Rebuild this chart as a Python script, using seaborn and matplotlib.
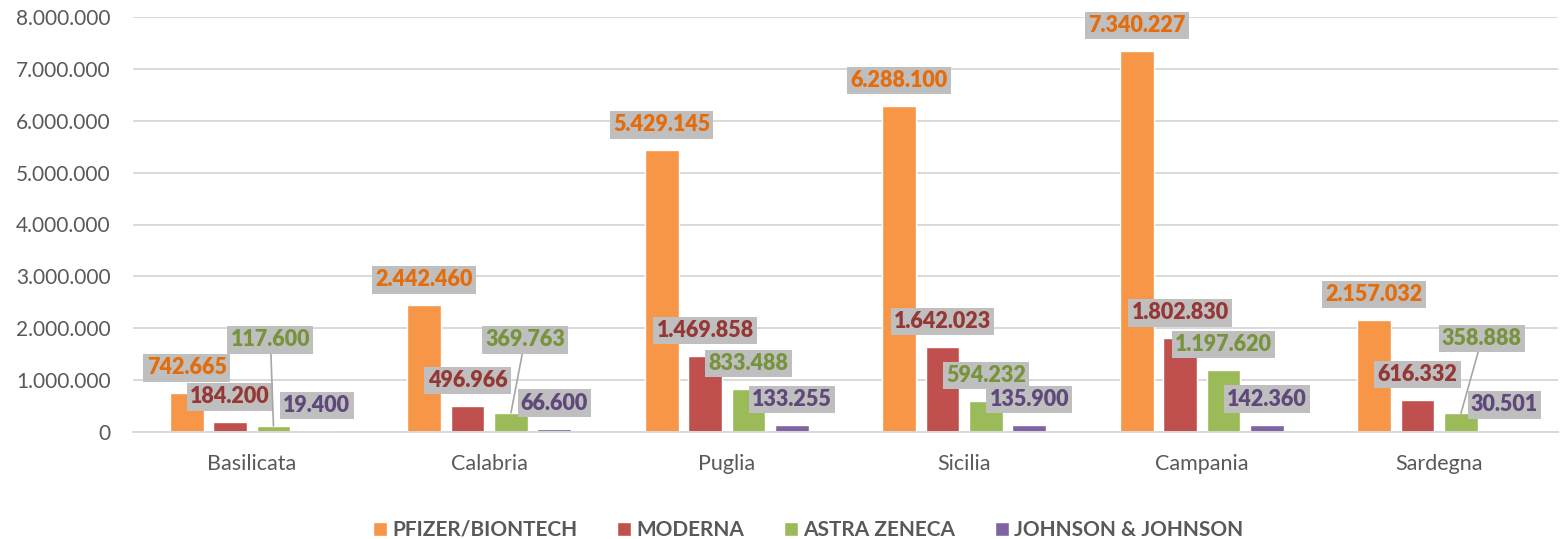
import numpy as np
import pandas as pd
import matplotlib
matplotlib.use("Agg")
import matplotlib.pyplot as plt
import seaborn as sns
from matplotlib.ticker import FuncFormatter

# ---- data ----
regions = ["Basilicata", "Calabria", "Puglia", "Sicilia", "Campania", "Sardegna"]
vaccines = ["PFIZER/BIONTECH", "MODERNA", "ASTRA ZENECA", "JOHNSON & JOHNSON"]
pfizer = [742665, 2442460, 5429145, 6288100, 7340227, 2157032]
moderna = [184200, 496966, 1469858, 1642023, 1802830, 616332]
astra = [117600, 369763, 833488, 594232, 1197620, 358888]
jj = [19400, 66600, 133255, 135900, 142360, 30501]
yticks = [0, 1000000, 2000000, 3000000, 4000000, 5000000, 6000000, 7000000, 8000000]

# ---- styles ----
bar_colors = ["#F79646", "#C0504D", "#9BBB59", "#8064A2"]
label_colors = ["#E46C0A", "#953735", "#77933C", "#5F497A"]
text_grey = "#595959"
grid_grey = "#D9D9D9"

series = [pfizer, moderna, astra, jj]
df = pd.DataFrame({
    "region": regions * len(vaccines),
    "vaccine": [v for v in vaccines for _ in regions],
    "value": [x for s in series for x in s],
})

def it_fmt(v):
    return f"{int(round(v)):,}".replace(",", ".")

sns.set_theme(style="white")
plt.rcParams["font.family"] = ["Lato", "DejaVu Sans"]

W, H = 1560, 539
fig = plt.figure(figsize=(W / 100, H / 100), dpi=100)
ax = fig.add_axes([133 / W, (H - 432) / H, (1558 - 133) / W, (432 - 17) / H])

sns.barplot(data=df, x="region", y="value", hue="vaccine", order=regions,
            hue_order=vaccines, palette=bar_colors, saturation=1,
            width=0.731, gap=0.22, errorbar=None, ax=ax)

ax.set_ylim(0, 8000000)
ax.set_yticks(yticks)
ax.yaxis.set_major_formatter(FuncFormatter(lambda v, p: it_fmt(v)))
ax.set_xlabel("")
ax.set_ylabel("")
ax.yaxis.grid(True, color=grid_grey, lw=1.4)
ax.set_axisbelow(True)
for s in ["top", "right", "left"]:
    ax.spines[s].set_visible(False)
ax.spines["bottom"].set_color(grid_grey)
ax.spines["bottom"].set_linewidth(1.4)
ax.tick_params(axis="y", length=0, pad=16, labelsize=15, labelcolor=text_grey)
ax.tick_params(axis="x", length=0, pad=16, labelsize=15.5, labelcolor=text_grey)

# ---- data labels ----
special = {(2, 0): (-3, 86), (2, 1): (14, 73), (2, 5): (21, 75)}
for si, cont in enumerate(ax.containers):
    for ri, bar in enumerate(cont):
        xc = bar.get_x() + bar.get_width() / 2
        top = bar.get_height()
        dx, dy = special.get((si, ri), (0, 25.5))
        kw = {}
        if (si, ri) in special:
            kw["arrowprops"] = dict(arrowstyle="-", color="#A6A6A6", lw=1.2,
                                    shrinkA=0, shrinkB=0)
        ax.annotate(it_fmt(series[si][ri]), xy=(xc, top), xytext=(dx, dy),
                    textcoords="offset pixels", ha="center", va="center",
                    fontsize=15.5, fontweight="heavy", color=label_colors[si],
                    bbox=dict(boxstyle="square,pad=0.15", fc="#BFBFBF", ec="none"),
                    zorder=5, annotation_clip=False, **kw)

# ---- legend ----
handles, labels = ax.get_legend_handles_labels()
ax.get_legend().remove()
leg = fig.legend(handles, labels, loc="center", bbox_to_anchor=(0.518, 9 / H),
                 ncol=4, frameon=False, handlelength=0.67, handleheight=0.67,
                 handletextpad=0.25, columnspacing=1.9,
                 prop=dict(weight="bold", size=15))
for t in leg.get_texts():
    t.set_color(text_grey)

fig.savefig("out.png", dpi=100)
